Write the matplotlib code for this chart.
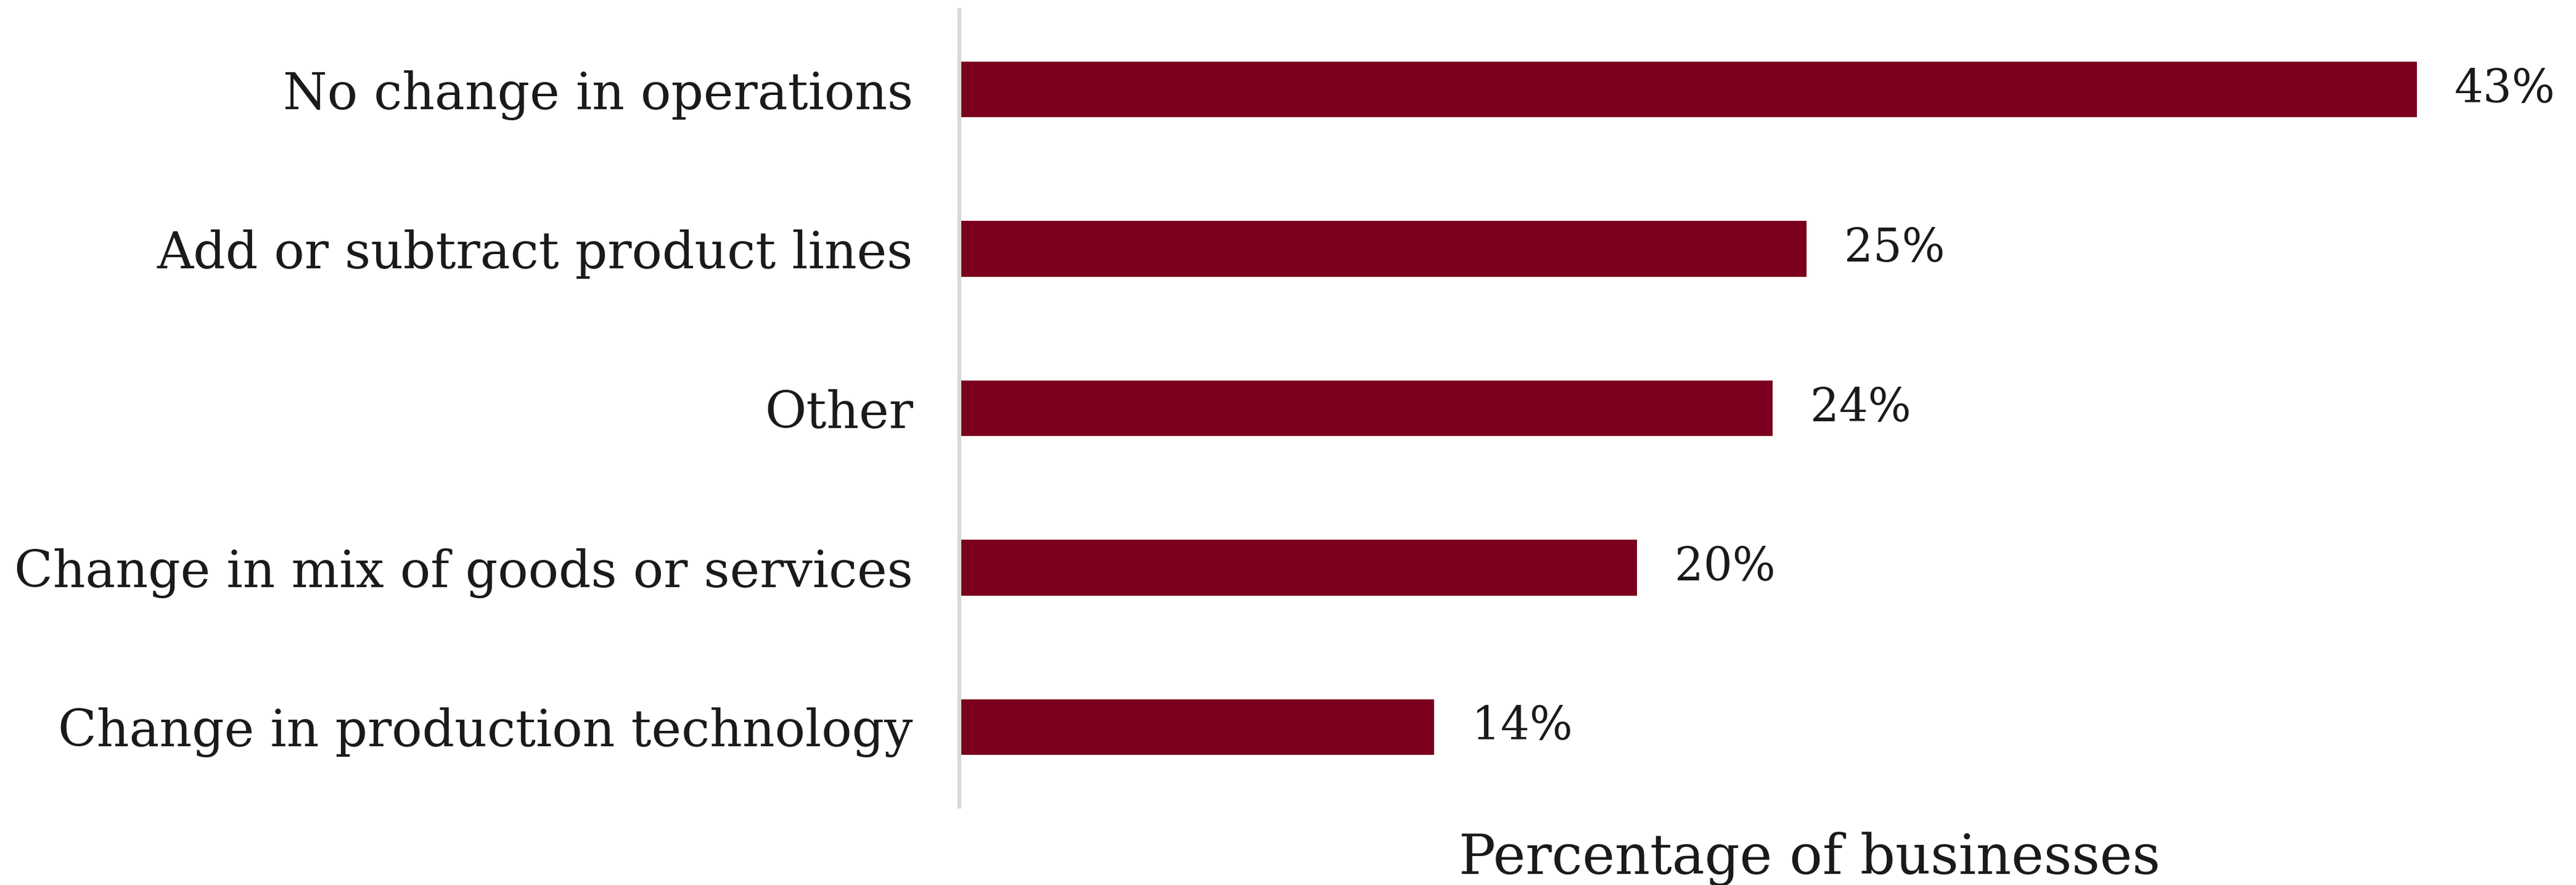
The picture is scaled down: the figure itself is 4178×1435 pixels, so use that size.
import matplotlib
matplotlib.use("Agg")
import matplotlib.pyplot as plt

# Survey responses: how businesses changed operations
categories = [
    "No change in operations",
    "Add or subtract product lines",
    "Other",
    "Change in mix of goods or services",
    "Change in production technology",
]
shares = [43, 25, 24, 20, 14]

W, H, DPI = 4178, 1435, 100
fig = plt.figure(figsize=(W / DPI, H / DPI), dpi=DPI)
plt.rcParams["font.family"] = ["DejaVu Serif"]
text_color = "#1A1A1A"

left, right = 1556 / W, 1.0
top, bottom = 1 - 16 / H, 1 - 1308 / H
ax = fig.add_axes([left, bottom, right - left, top - bottom])

ypos = list(range(len(categories)))
ax.barh(ypos, shares, height=0.35, color="#7A001D", zorder=2)

ax.set_ylim(len(categories) - 0.5, -0.5)
ax.set_xlim(0, 47.7)
ax.set_yticks(ypos)
ax.set_yticklabels(categories, fontsize=59, color=text_color)
ax.tick_params(axis="y", length=0, pad=54)
ax.set_xticks([])

for s in ["top", "right", "bottom"]:
    ax.spines[s].set_visible(False)
ax.spines["left"].set_color("#D9D9D9")
ax.spines["left"].set_linewidth(4.5)

for y, v in zip(ypos, shares):
    ax.annotate(f"{v}%", xy=(v, y), xytext=(44, 0), textcoords="offset points",
                va="center", ha="left", fontsize=53, color=text_color)

fig.text(2935 / W, 1 - 1417 / H, "Percentage of businesses", ha="center",
         va="baseline", fontsize=64, color=text_color)

fig.savefig("out.png", dpi=DPI, facecolor="white")
